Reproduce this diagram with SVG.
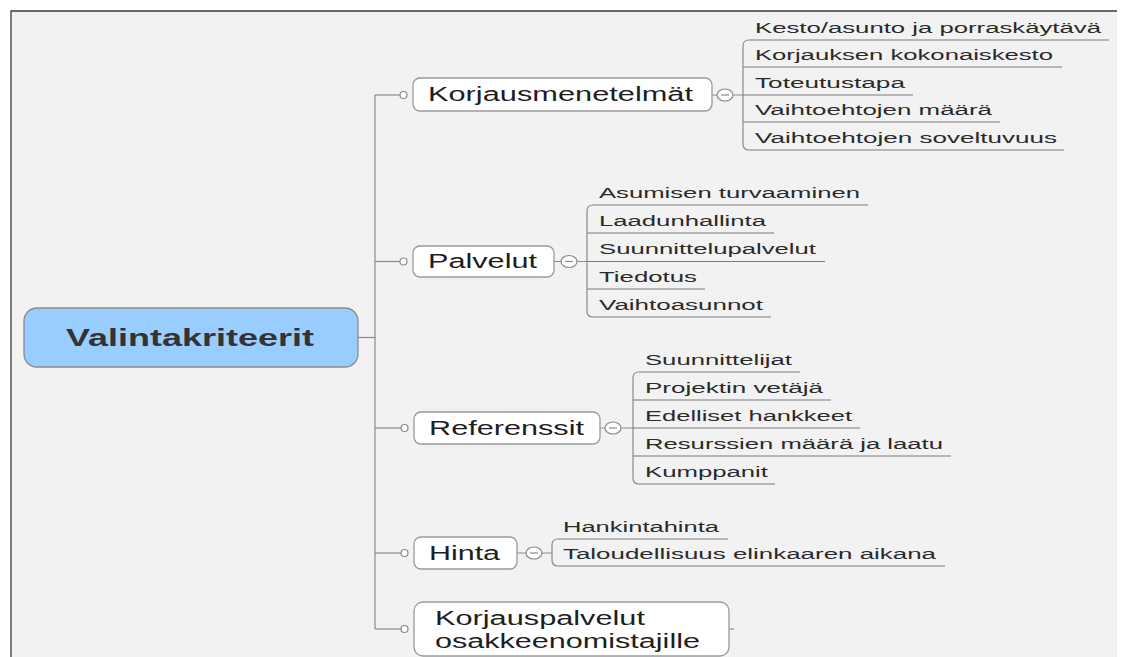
<svg xmlns="http://www.w3.org/2000/svg" width="1122" height="657" viewBox="0 0 1122 657">
<style>
.ln{fill:none;stroke:#8a8a8a;stroke-width:1.2}
.ul{fill:none;stroke:#7a7a7a;stroke-width:1}
.dot{fill:#ffffff;stroke:#8a8a8a;stroke-width:1.2}
.box{fill:#ffffff;stroke:#9a9a9a;stroke-width:1.3}
.nt{font-family:"Liberation Sans",Arial,sans-serif;font-size:19.5px;fill:#1e1e1e}
.st{font-family:"Liberation Sans",Arial,sans-serif;font-size:15.5px;fill:#2a2a2a}
.rt{font-family:"Liberation Sans",Arial,sans-serif;font-size:24px;font-weight:bold;fill:#333333}
</style>
<rect x="0" y="0" width="1122" height="657" fill="#ffffff"/>
<rect x="11" y="11" width="1106" height="646" fill="#f2f2f2"/>
<path d="M11 657 V11 H1117" fill="none" stroke="#3a3a3a" stroke-width="1.3"/>

<g id="connectors">
  <path class="ln" d="M358 337.5 H375"/>
  <path class="ln" d="M375 95 V629"/>
  <path class="ln" d="M375 95 H400"/>
  <path class="ln" d="M375 261.5 H400"/>
  <path class="ln" d="M375 428 H401"/>
  <path class="ln" d="M375 553 H401"/>
  <path class="ln" d="M375 629 H401"/>
  <circle class="dot" cx="403.5" cy="95" r="3.5"/>
  <circle class="dot" cx="403.5" cy="261.5" r="3.5"/>
  <circle class="dot" cx="404.5" cy="428" r="3.5"/>
  <circle class="dot" cx="404.5" cy="553" r="3.5"/>
  <circle class="dot" cx="404.5" cy="629" r="3.5"/>
  <path class="ln" d="M729 629 H734"/>
  <!-- Korjausmenetelmat branch -->
  <path class="ln" d="M712 95 H717 M733 95 H743"/>
  <path class="ln" d="M749 40 Q743 40 743 46 V144 Q743 150 749 150"/>
  <!-- Palvelut -->
  <path class="ln" d="M554 261.5 H561 M577 261.5 H587"/>
  <path class="ln" d="M593 205 Q587 205 587 211 V311 Q587 317 593 317"/>
  <!-- Referenssit -->
  <path class="ln" d="M600 428 H605 M621 428 H633"/>
  <path class="ln" d="M639 372 Q633 372 633 378 V478 Q633 484 639 484"/>
  <!-- Hinta -->
  <path class="ln" d="M517 553 H526 M542 553 H552"/>
  <path class="ln" d="M558 539 Q552 539 552 545 V560 Q552 566 558 566"/>
</g>

<g id="root">
  <rect x="24" y="308" width="334" height="59" rx="13" fill="#99ccff" stroke="#8a8a8a" stroke-width="1.3"/>
  <text class="rt" x="190" y="346" text-anchor="middle" textLength="248" lengthAdjust="spacingAndGlyphs">Valintakriteerit</text>
</g>

<g id="korjausmenetelmat">
  <rect class="box" x="413" y="78" width="299" height="33" rx="7"/>
  <text class="nt" x="428" y="101" textLength="265" lengthAdjust="spacingAndGlyphs">Korjausmenetelmät</text>
  <ellipse class="dot" cx="725" cy="95" rx="8" ry="6"/>
  <path class="ln" d="M721 95 H729"/>
</g>
<g id="k-sub">
  <text class="st" x="755" y="33" textLength="346" lengthAdjust="spacingAndGlyphs">Kesto/asunto ja porraskäytävä</text>
  <path class="ul" d="M749 40 H1109"/>
  <text class="st" x="755" y="60" textLength="298" lengthAdjust="spacingAndGlyphs">Korjauksen kokonaiskesto</text>
  <path class="ul" d="M743 67 H1062"/>
  <text class="st" x="755" y="88" textLength="150" lengthAdjust="spacingAndGlyphs">Toteutustapa</text>
  <path class="ul" d="M743 95 H913"/>
  <text class="st" x="755" y="115" textLength="237" lengthAdjust="spacingAndGlyphs">Vaihtoehtojen määrä</text>
  <path class="ul" d="M743 122 H1000"/>
  <text class="st" x="755" y="143" textLength="302" lengthAdjust="spacingAndGlyphs">Vaihtoehtojen soveltuvuus</text>
  <path class="ul" d="M749 150 H1064"/>
</g>

<g id="palvelut">
  <rect class="box" x="413" y="246" width="141" height="31" rx="7"/>
  <text class="nt" x="428" y="268" textLength="109" lengthAdjust="spacingAndGlyphs">Palvelut</text>
  <ellipse class="dot" cx="569" cy="261.5" rx="8" ry="6"/>
  <path class="ln" d="M565 261.5 H573"/>
</g>
<g id="p-sub">
  <text class="st" x="599" y="198" textLength="261" lengthAdjust="spacingAndGlyphs">Asumisen turvaaminen</text>
  <path class="ul" d="M593 205 H868"/>
  <text class="st" x="599" y="226" textLength="167" lengthAdjust="spacingAndGlyphs">Laadunhallinta</text>
  <path class="ul" d="M587 233 H774"/>
  <text class="st" x="599" y="254" textLength="217" lengthAdjust="spacingAndGlyphs">Suunnittelupalvelut</text>
  <path class="ul" d="M587 261.5 H825"/>
  <text class="st" x="599" y="282" textLength="98" lengthAdjust="spacingAndGlyphs">Tiedotus</text>
  <path class="ul" d="M587 289 H705"/>
  <text class="st" x="599" y="310" textLength="164" lengthAdjust="spacingAndGlyphs">Vaihtoasunnot</text>
  <path class="ul" d="M593 317 H771"/>
</g>

<g id="referenssit">
  <rect class="box" x="414" y="412" width="186" height="32" rx="7"/>
  <text class="nt" x="429" y="435" textLength="155" lengthAdjust="spacingAndGlyphs">Referenssit</text>
  <ellipse class="dot" cx="613" cy="428" rx="8" ry="6"/>
  <path class="ln" d="M609 428 H617"/>
</g>
<g id="r-sub">
  <text class="st" x="645" y="365" textLength="147" lengthAdjust="spacingAndGlyphs">Suunnittelijat</text>
  <path class="ul" d="M639 372 H800"/>
  <text class="st" x="645" y="393" textLength="178" lengthAdjust="spacingAndGlyphs">Projektin vetäjä</text>
  <path class="ul" d="M633 400 H831"/>
  <text class="st" x="645" y="421" textLength="207" lengthAdjust="spacingAndGlyphs">Edelliset hankkeet</text>
  <path class="ul" d="M633 428 H860"/>
  <text class="st" x="645" y="449" textLength="298" lengthAdjust="spacingAndGlyphs">Resurssien määrä ja laatu</text>
  <path class="ul" d="M633 456 H951"/>
  <text class="st" x="645" y="477" textLength="123" lengthAdjust="spacingAndGlyphs">Kumppanit</text>
  <path class="ul" d="M639 484 H775"/>
</g>

<g id="hinta">
  <rect class="box" x="414" y="537" width="103" height="32" rx="7"/>
  <text class="nt" x="429" y="560" textLength="71" lengthAdjust="spacingAndGlyphs">Hinta</text>
  <ellipse class="dot" cx="534" cy="553" rx="8" ry="6"/>
  <path class="ln" d="M530 553 H538"/>
</g>
<g id="h-sub">
  <text class="st" x="563" y="532" textLength="156" lengthAdjust="spacingAndGlyphs">Hankintahinta</text>
  <path class="ul" d="M558 539 H728"/>
  <text class="st" x="563" y="559" textLength="373" lengthAdjust="spacingAndGlyphs">Taloudellisuus elinkaaren aikana</text>
  <path class="ul" d="M558 566 H945"/>
</g>

<g id="korjauspalvelut">
  <rect class="box" x="414" y="602" width="315" height="54" rx="9"/>
  <text class="nt" x="435" y="625" textLength="210" lengthAdjust="spacingAndGlyphs">Korjauspalvelut</text>
  <text class="nt" x="435" y="648" textLength="265" lengthAdjust="spacingAndGlyphs">osakkeenomistajille</text>
</g>
</svg>
